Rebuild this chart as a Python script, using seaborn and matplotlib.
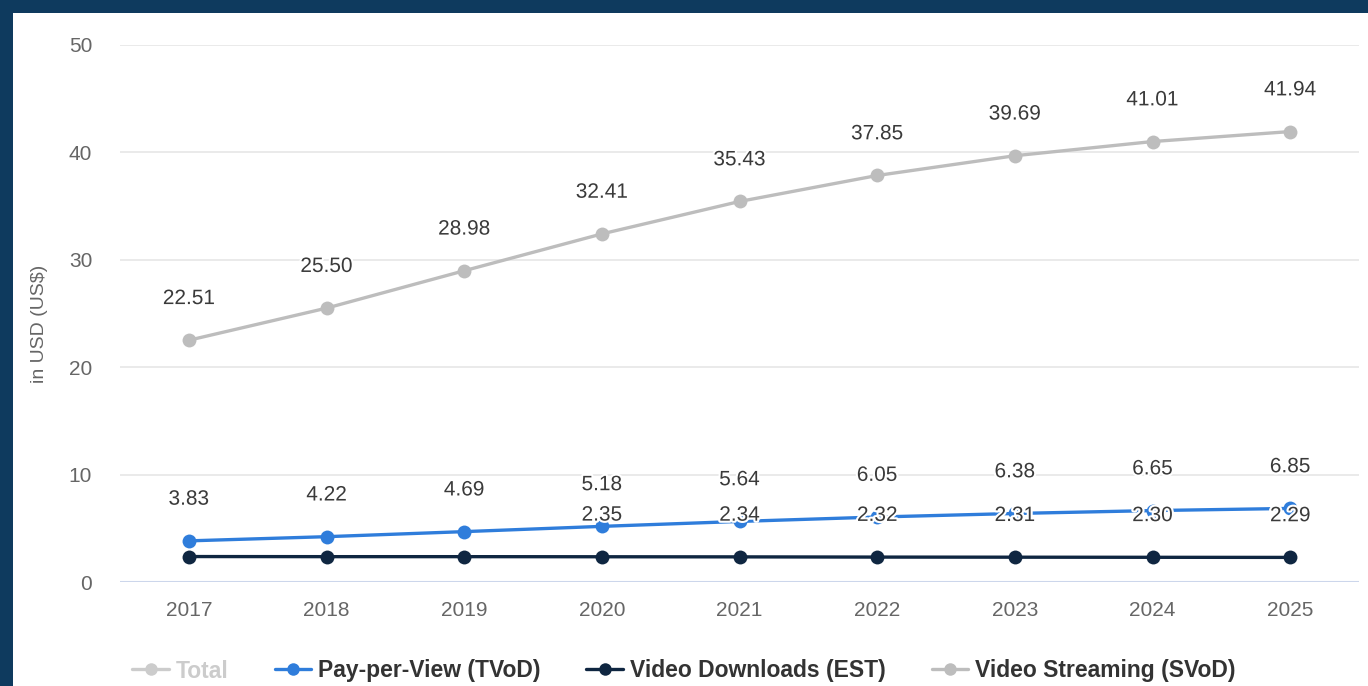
import matplotlib
matplotlib.use("Agg")
import matplotlib.pyplot as plt
import matplotlib.patheffects as pe
from matplotlib.lines import Line2D
from matplotlib.patches import Rectangle
import seaborn as sns
import pandas as pd

# chart data
years = ["2017", "2018", "2019", "2020", "2021", "2022", "2023", "2024", "2025"]
tvod = [3.83, 4.22, 4.69, 5.18, 5.64, 6.05, 6.38, 6.65, 6.85]
est = [2.37, 2.36, 2.36, 2.35, 2.34, 2.32, 2.31, 2.30, 2.29]
svod = [22.51, 25.50, 28.98, 32.41, 35.43, 37.85, 39.69, 41.01, 41.94]
est_label_from = 3  # labels for the first EST points are hidden in the original

series_names = ["Pay-per-View (TVoD)", "Video Downloads (EST)", "Video Streaming (SVoD)"]
colors = {"Pay-per-View (TVoD)": "#2f7ddb",
          "Video Downloads (EST)": "#0f2641",
          "Video Streaming (SVoD)": "#bdbdbd"}

rows = []
for name, vals in zip(series_names, [tvod, est, svod]):
    for i, v in enumerate(vals):
        rows.append({"x": i, "value": v, "series": name})
df = pd.DataFrame(rows)

sns.set_theme(style="white")
plt.rcParams["font.family"] = ["Liberation Sans", "DejaVu Sans"]

fig = plt.figure(figsize=(13.68, 6.86), dpi=100)
fig.patch.set_facecolor("#0e3a5e")
fig.patches.append(Rectangle((13 / 1368, 0), 1, 1 - 13 / 686, transform=fig.transFigure,
                             facecolor="white", edgecolor="none", zorder=-10))

ax = fig.add_axes([120 / 1368, 1 - 582 / 686, 1239 / 1368, 537 / 686])
ax.set_facecolor("none")

# draw SVoD first so the lower series sit on top
order = ["Video Streaming (SVoD)", "Video Downloads (EST)", "Pay-per-View (TVoD)"]
for name in order:
    sub = df[df["series"] == name]
    sns.lineplot(data=sub, x="x", y="value", color=colors[name], marker="o",
                 markersize=10, markeredgewidth=0, linewidth=2.4, ax=ax,
                 legend=False, clip_on=False, zorder=3)

ax.set_xlim(-0.5, len(years) - 0.5)
ax.set_ylim(0, 50)
ax.set_xticks(range(len(years)))
ax.set_xticklabels(years)
ax.set_yticks(range(0, 51, 10))
ax.grid(axis="y", color="#e6e6e6", linewidth=1.2)
ax.grid(axis="x", visible=False)
ax.axhline(0, color="#ccd6eb", linewidth=1.5, zorder=2)
for s in ax.spines.values():
    s.set_visible(False)
ax.tick_params(axis="both", length=0, labelsize=15, labelcolor="#666666")
ax.tick_params(axis="x", pad=14)
ax.tick_params(axis="y", pad=20)
ax.set_xlabel("")
ax.set_ylabel("in USD (US$)", fontsize=14, color="#666666", labelpad=10)
ax.yaxis.set_label_coords(-0.058, 0.48)

outline = [pe.withStroke(linewidth=3, foreground="white")]
for name, vals, start in [("Video Streaming (SVoD)", svod, 0),
                          ("Pay-per-View (TVoD)", tvod, 0),
                          ("Video Downloads (EST)", est, est_label_from)]:
    for i, v in enumerate(vals):
        if i < start:
            continue
        ax.annotate(f"{v:.2f}", (i, v), xytext=(0, 30), textcoords="offset points",
                    ha="center", va="center", fontsize=15, color="#3a3a3a",
                    path_effects=outline, zorder=5, annotation_clip=False)

handles = [Line2D([], [], color="#cccccc", marker="o", markersize=9, linewidth=2.4,
                  markeredgewidth=0)]
for name in series_names:
    handles.append(Line2D([], [], color=colors[name], marker="o", markersize=9,
                          linewidth=2.4, markeredgewidth=0))
labels = ["Total"] + series_names
leg = fig.legend(handles, labels, loc="center", bbox_to_anchor=(0.5, 1 - 671 / 686),
                 ncol=4, frameon=False, handlelength=1.6, handletextpad=0.3,
                 columnspacing=2.0, prop={"weight": "bold", "size": 16.5})
for i, t in enumerate(leg.get_texts()):
    t.set_color("#cccccc" if i == 0 else "#333333")

fig.savefig("out.png", dpi=100, facecolor=fig.get_facecolor())
